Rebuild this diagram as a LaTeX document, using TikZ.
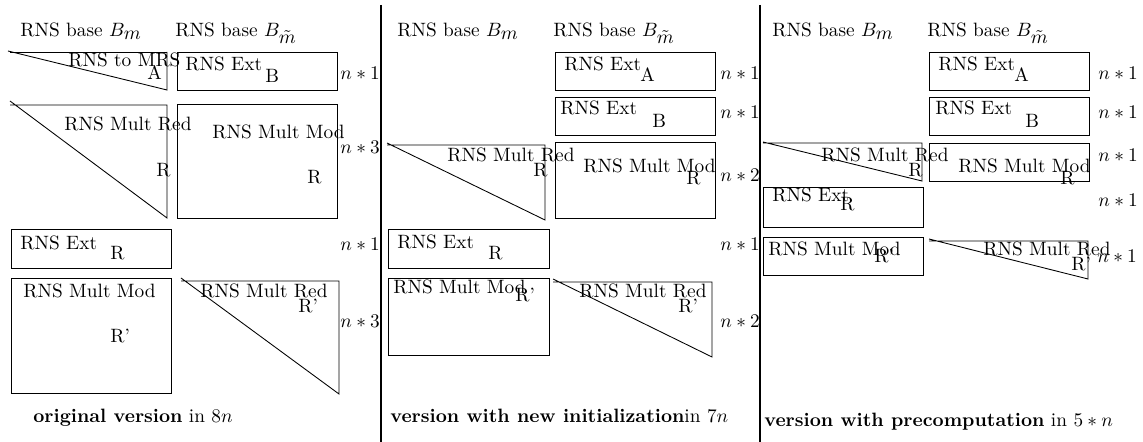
\documentclass[tikz,border=0pt]{standalone}
\begin{document}
\begin{tikzpicture}[x=0.518pt,y=-0.518pt,
  lbl/.style={anchor=base west,inner sep=0pt},
  box/.style={line width=0.45pt},
  sep/.style={line width=1.1pt}]
\useasboundingbox (0,0) rectangle (1143,442);
% separators
\draw[sep] (381,5) -- (381,442);
\draw[sep] (760,5) -- (760,442);
%%%%%%%% Panel 1
\node[lbl] (p1bm) at (20,37) {RNS base $B_{\textstyle m}$};
\node[lbl] (p1bt) at (175,37) {RNS base $B_{\textstyle\tilde m}$};
% triangle A
\draw[box] (167,52) -- (167,90) -- (8,51);
\draw[box] (10,52) -- (167,52);
\node[lbl] (p1ta) at (68,67) {RNS to MRS};
\node[lbl] (p1a) at (147,80) {A};
% box B
\draw[box] (177,52) rectangle (337,90);
\node[lbl] (p1tb) at (185,71) {RNS Ext};
\node[lbl] (p1b) at (265,83) {B};
\node[lbl] (p1n1) at (340,80) {$n*1$};
% triangle R
\draw[box] (10,105) -- (167,105) -- (167,218) -- (10,101);
\node[lbl] (p1tr) at (64,131) {RNS Mult Red};
\node[lbl] (p1r) at (156,177) {R};
% box mod R
\draw[box] (177,104) rectangle (337,218);
\node[lbl] (p1tm) at (212,139) {RNS Mult Mod};
\node[lbl] (p1rm) at (307,184) {R};
\node[lbl] (p1n3) at (340,154) {$n*3$};
% box ext R
\draw[box] (11,229) rectangle (171,268);
\node[lbl] (p1te) at (20,250) {RNS Ext};
\node[lbl] (p1re) at (110,260) {R};
\node[lbl] (p1n1b) at (340,251) {$n*1$};
% box mod R'
\draw[box] (11,278) rectangle (171,393);
\node[lbl] (p1tm2) at (23,298) {RNS Mult Mod};
\node[lbl] (p1rm2) at (110,343) {R'};
% triangle R'
\draw[box] (181,281) -- (339,281) -- (339,394) -- (181,278);
\node[lbl] (p1tr2) at (200,298) {RNS Mult Red};
\node[lbl] (p1rr2) at (298,313) {R'};
\node[lbl] (p1n3b) at (340,328) {$n*3$};
\node[lbl] (p1cap) at (33,423) {\textbf{original version} in $8n$};
%%%%%%%% Panel 2
\node[lbl] (p2bm) at (397,37) {RNS base $B_{\textstyle m}$};
\node[lbl] (p2bt) at (553,37) {RNS base $B_{\textstyle\tilde m}$};
\draw[box] (555,52) rectangle (715,90);
\node[lbl] (p2ta) at (564,71) {RNS Ext};
\node[lbl] (p2a) at (640,82) {A};
\node[lbl] (p2n1a) at (720,80) {$n*1$};
\draw[box] (555,97) rectangle (715,135);
\node[lbl] (p2tb) at (560,115) {RNS Ext};
\node[lbl] (p2b) at (652,128) {B};
\node[lbl] (p2n1b) at (720,119) {$n*1$};
\draw[box] (387,145) -- (545,145) -- (545,220) -- (387,143);
\node[lbl] (p2tr) at (447,162) {RNS Mult Red};
\node[lbl] (p2r) at (533,177) {R};
\draw[box] (555,142) rectangle (715,218);
\node[lbl] (p2tm) at (583,173) {RNS Mult Mod};
\node[lbl] (p2rm) at (686,185) {R};
\node[lbl] (p2n2) at (720,182) {$n*2$};
\draw[box] (388,229) rectangle (549,268);
\node[lbl] (p2te) at (397,249) {RNS Ext};
\node[lbl] (p2re) at (488,260) {R};
\node[lbl] (p2n1c) at (720,251) {$n*1$};
\draw[box] (388,278) rectangle (549,355);
\node[lbl] (p2tm2) at (393,294) {RNS Mult Mod};
\node[lbl] (p2rm2) at (515,302) {R'};
\draw[box] (553,282) -- (712,282) -- (712,357) -- (553,279);
\node[lbl] (p2tr2) at (579,298) {RNS Mult Red};
\node[lbl] (p2rr2) at (678,313) {R'};
\node[lbl] (p2n2b) at (720,328) {$n*2$};
\node[lbl] (p2cap) at (390,423) {\textbf{version with new initialization}in $7n$};
%%%%%%%% Panel 3
\node[lbl] (p3bm) at (772,37) {RNS base $B_{\textstyle m}$};
\node[lbl] (p3bt) at (927,37) {RNS base $B_{\textstyle\tilde m}$};
\draw[box] (929,52) rectangle (1089,90);
\node[lbl] (p3ta) at (938,71) {RNS Ext};
\node[lbl] (p3a) at (1014,82) {A};
\node[lbl] (p3n1a) at (1098,80) {$n*1$};
\draw[box] (929,97) rectangle (1089,135);
\node[lbl] (p3tb) at (935,115) {RNS Ext};
\node[lbl] (p3b) at (1025,128) {B};
\node[lbl] (p3n1b) at (1098,119) {$n*1$};
\draw[box] (763,143) -- (922,143) -- (922,181) -- (763,142);
\node[lbl] (p3tr) at (821,162) {RNS Mult Red};
\node[lbl] (p3r) at (908,177) {R};
\draw[box] (929,143) rectangle (1089,181);
\node[lbl] (p3tm) at (958,173) {RNS Mult Mod};
\node[lbl] (p3rm) at (1060,185) {R};
\node[lbl] (p3n1c) at (1098,162) {$n*1$};
\draw[box] (763,187) rectangle (923,227);
\node[lbl] (p3te) at (772,202) {RNS Ext};
\node[lbl] (p3re) at (840,211) {R};
\node[lbl] (p3n1d) at (1098,207) {$n*1$};
\draw[box] (763,237) rectangle (923,275);
\node[lbl] (p3tm2) at (768,256) {RNS Mult Mod};
\node[lbl] (p3rm2) at (874,263) {R'};
\draw[box] (929,241) -- (1088,241) -- (1088,279) -- (929,239);
\node[lbl] (p3tr2) at (983,256) {RNS Mult Red};
\node[lbl] (p3rr2) at (1071,271) {R'};
\node[lbl] (p3n1e) at (1097,263) {$n*1$};
\node[lbl] (p3cap) at (764,427) {\textbf{version with precomputation} in $5*n$};
\end{tikzpicture}
\end{document}
